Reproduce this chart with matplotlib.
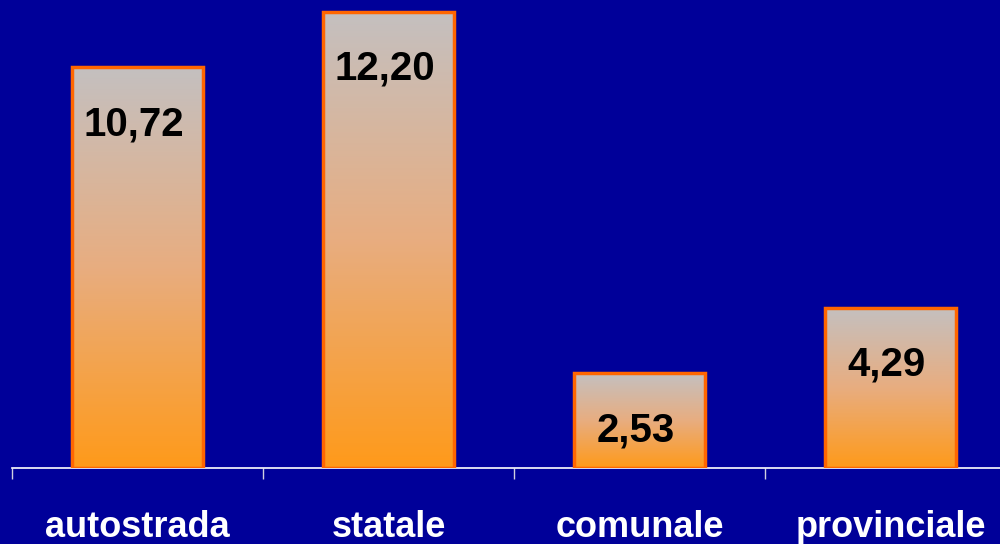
import matplotlib.pyplot as plt
import numpy as np
from matplotlib.colors import LinearSegmentedColormap

categories = ['autostrada', 'statale', 'comunale', 'provinciale']
values = [10.72, 12.20, 2.53, 4.29]
value_labels = ['10,72', '12,20', '2,53', '4,29']

bg = '#000099'
grad = LinearSegmentedColormap.from_list('grad', ['#ff9a1a', '#e8ad80', '#c4c0c0'])

fig = plt.figure(figsize=(10, 5.44), dpi=100, facecolor=bg)
ax = fig.add_axes([0.012, 0.1397, 1.004, 0.859])
ax.set_facecolor(bg)

x = np.arange(len(categories))
width = 0.52
bars = ax.bar(x, values, width=width, facecolor='none', edgecolor='#ff6600',
              linewidth=2.5, zorder=3)

# vertical gradient inside each bar
gy = np.linspace(0, 1, 256).reshape(-1, 1)
for b in bars:
    bx, by = b.get_x(), b.get_y()
    bw, bh = b.get_width(), b.get_height()
    im = ax.imshow(gy, cmap=grad, aspect='auto', origin='lower',
                   extent=(bx, bx + bw, by, by + bh), zorder=2)
    im.set_clip_path(b)

for xi, v, lab in zip(x, values, value_labels):
    ax.annotate(lab, (xi, v), xytext=(-4, -57), textcoords='offset pixels',
                ha='center', va='center', fontsize=29, fontweight='bold',
                family='Liberation Sans', color='black', zorder=4)

ax.set_xlim(-0.5, 3.5)
ax.set_ylim(0, 12.5)
for s in ['top', 'right', 'left']:
    ax.spines[s].set_visible(False)
ax.spines['bottom'].set_color('white')
ax.spines['bottom'].set_linewidth(1.2)
ax.set_yticks([])

ax.set_xticks(x)
ax.set_xticklabels(categories, fontsize=26, fontweight='bold',
                   family='Liberation Sans', color='white')
ax.tick_params(axis='x', which='major', length=0, pad=30)
ax.set_xticks(np.arange(-0.5, 4, 1), minor=True)
ax.tick_params(axis='x', which='minor', length=8, width=1, color='#d0d0e0',
               direction='out')

fig.savefig('out.png', dpi=100, facecolor=bg)
